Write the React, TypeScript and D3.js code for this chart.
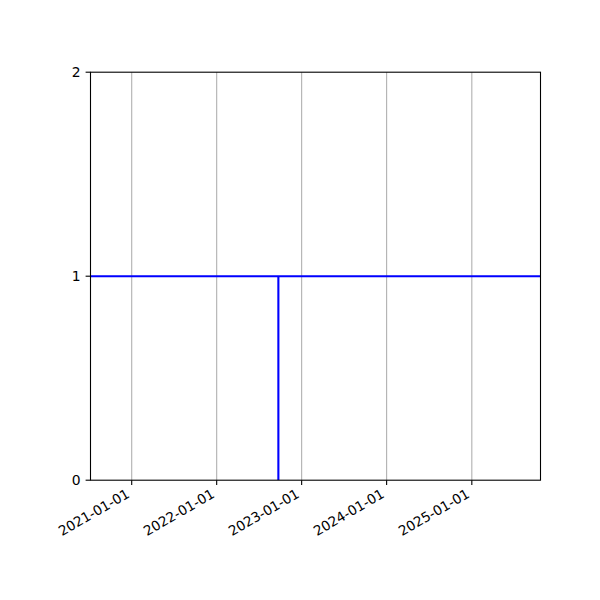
import React, { useRef, useEffect } from 'react';
import * as d3 from 'd3';

// horizontal level line (runs past both edges, clipped by the axes)
const levelDates = ["2020-01-01", "2026-06-01"];
const levelValues = [1, 1];

// vertical drop at the event date
const eventDates = ["2022-09-23", "2022-09-23"];
const eventValues = [0, 1];

const xDomainDates = ["2020-07-08", "2025-10-23"];
const xTickDates = ["2021-01-01", "2022-01-01", "2023-01-01", "2024-01-01", "2025-01-01"];
const yTicks = [0, 1, 2];

const parse = d3.timeParse("%Y-%m-%d");

export default function App() {
  const svgRef = useRef<SVGSVGElement>(null);

  useEffect(() => {
    if (!svgRef.current) return;
    const width = 600;
    const height = 600;
    const margin = { top: 72, right: 60, bottom: 120, left: 90 };
    const w = width - margin.left - margin.right;
    const h = height - margin.top - margin.bottom;

    const svg = d3.select(svgRef.current);
    svg.selectAll("*").remove();

    const x = d3.scaleTime()
      .domain(xDomainDates.map(d => parse(d) as Date))
      .range([0, w]);
    const y = d3.scaleLinear().domain([0, 2]).range([h, 0]);

    svg.append("defs").append("clipPath").attr("id", "plot-clip")
      .append("rect").attr("width", w).attr("height", h);

    const g = svg.append("g").attr("transform", `translate(${margin.left + 0.5},${margin.top + 0.2})`);

    // vertical grid
    xTickDates.forEach((d) => {
      const xp = x(parse(d) as Date);
      g.append("line")
        .attr("x1", xp).attr("x2", xp)
        .attr("y1", 0).attr("y2", h)
        .attr("stroke", "#b0b0b0")
        .attr("stroke-width", 1.1);
    });

    const line = d3.line<[string, number]>()
      .x(d => x(parse(d[0]) as Date))
      .y(d => y(d[1]));

    const plot = g.append("g").attr("clip-path", "url(#plot-clip)");
    plot.append("path")
      .datum(levelDates.map((d, i) => [d, levelValues[i]] as [string, number]))
      .attr("fill", "none").attr("stroke", "#0000ff").attr("stroke-width", 2.1)
      .attr("d", line);
    plot.append("path")
      .datum(eventDates.map((d, i) => [d, eventValues[i]] as [string, number]))
      .attr("fill", "none").attr("stroke", "#0000ff").attr("stroke-width", 2.1)
      .attr("d", line);

    // frame
    g.append("rect")
      .attr("width", w).attr("height", h)
      .attr("fill", "none").attr("stroke", "#000").attr("stroke-width", 1.1);

    // y ticks
    yTicks.forEach((t) => {
      const yp = y(t);
      g.append("line").attr("x1", -4.9).attr("x2", 0).attr("y1", yp).attr("y2", yp)
        .attr("stroke", "#000").attr("stroke-width", 1.1);
      g.append("text")
        .attr("x", -9.8).attr("y", yp)
        .attr("text-anchor", "end")
        .attr("dominant-baseline", "central")
        .attr("font-family", "DejaVu Sans")
        .attr("font-size", "13.9px")
        .attr("fill", "#000")
        .text(t.toString());
    });

    // x ticks, rotated labels
    xTickDates.forEach((d) => {
      const xp = x(parse(d) as Date);
      g.append("line").attr("x1", xp).attr("x2", xp).attr("y1", h).attr("y2", h + 4.9)
        .attr("stroke", "#000").attr("stroke-width", 1.1);
      g.append("text")
        .attr("transform", `translate(${xp - 6.5},${h + 7.5}) rotate(-30)`)
        .attr("text-anchor", "end")
        .attr("dominant-baseline", "hanging")
        .attr("font-family", "DejaVu Sans")
        .attr("font-size", "13.6px")
        .attr("fill", "#000")
        .text(d);
    });
  }, []);

  return (
    <svg ref={svgRef} width={600} height={600} style={{ display: 'block', margin: '-8px' }} />
  );
}
